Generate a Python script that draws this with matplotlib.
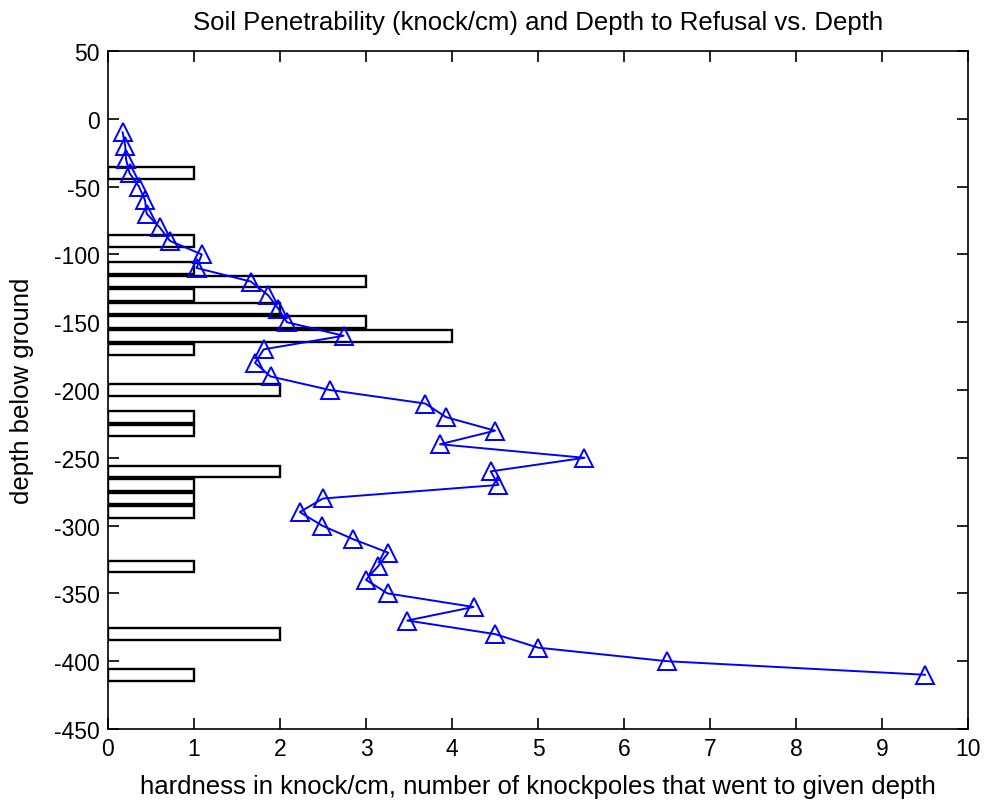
import matplotlib
matplotlib.use("Agg")
import matplotlib.pyplot as plt

plt.rcParams["font.family"] = ["Liberation Sans", "DejaVu Sans"]
plt.rcParams["axes.unicode_minus"] = False

# Refusal depths and how many knockpoles reached each one
bar_depths = [-40, -90, -110, -120, -130, -140, -150, -160, -170, -200,
              -220, -230, -260, -270, -280, -290, -330, -380, -410]
bar_counts = [1, 1, 1, 3, 1, 2, 3, 4, 1, 2,
              1, 1, 2, 1, 1, 1, 1, 2, 1]

# Penetrability profile (knock/cm) against depth
profile_depths = [-10, -20, -30, -40, -50, -60, -70, -80, -90, -100,
                  -110, -120, -130, -140, -150, -160, -170, -180, -190, -200,
                  -210, -220, -230, -240, -250, -260, -270, -280, -290, -300,
                  -310, -320, -330, -340, -350, -360, -370, -380, -390, -400,
                  -410]
hardness = [0.17, 0.20, 0.21, 0.25, 0.36, 0.43, 0.45, 0.60, 0.72, 1.09,
            1.03, 1.66, 1.86, 1.98, 2.08, 2.74, 1.81, 1.71, 1.89, 2.58,
            3.69, 3.93, 4.50, 3.86, 5.54, 4.45, 4.54, 2.50, 2.23, 2.49,
            2.85, 3.26, 3.14, 3.00, 3.25, 4.25, 3.48, 4.50, 5.00, 6.50,
            9.50]

x_ticks = [0, 1, 2, 3, 4, 5, 6, 7, 8, 9, 10]
y_ticks = [50, 0, -50, -100, -150, -200, -250, -300, -350, -400, -450]

fig = plt.figure(figsize=(9.84, 8.04), dpi=100)
ax = fig.add_axes([108 / 984, 1 - 730 / 804, 860 / 984, (730 - 52) / 804])

ax.barh(bar_depths, bar_counts, height=8.5, left=0, color="white",
        edgecolor="black", linewidth=1.7, zorder=2)
ax.plot(hardness, profile_depths, color="#0000ff", linewidth=1.4,
        marker="^", markersize=13.5, markerfacecolor="none",
        markeredgecolor="#0000ff", markeredgewidth=1.4, zorder=3)

ax.set_xlim(0, 10)
ax.set_ylim(-450, 50)
ax.set_xticks(x_ticks)
ax.set_yticks(y_ticks)
ax.tick_params(direction="in", length=8, width=1.2, top=True, right=True,
               labelsize=16.5, pad=6, colors="black")
for s in ax.spines.values():
    s.set_linewidth(1.2)

ax.set_title("Soil Penetrability (knock/cm) and Depth to Refusal vs. Depth",
             fontsize=18.5, pad=16)
ax.set_xlabel("hardness in knock/cm, number of knockpoles that went to given depth",
              fontsize=18.5, labelpad=10)
ax.set_ylabel("depth below ground", fontsize=18.5, labelpad=14)

fig.savefig("out.png", dpi=100, facecolor="white")
